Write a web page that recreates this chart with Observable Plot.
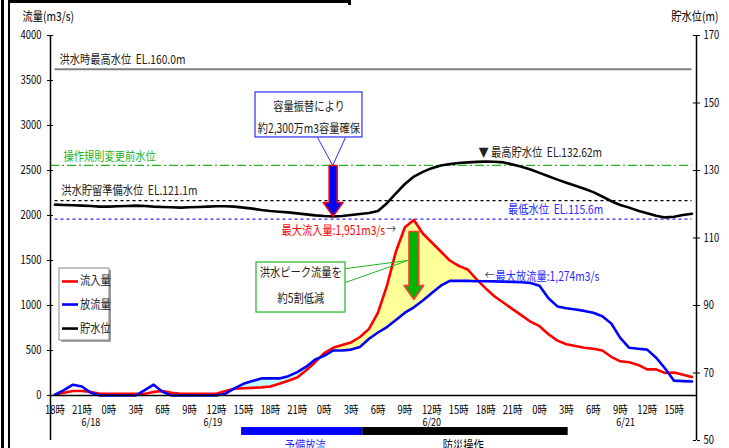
<!DOCTYPE html>
<html><head><meta charset="utf-8">
<script src="https://cdn.jsdelivr.net/npm/d3@7"></script>
<script src="https://cdn.jsdelivr.net/npm/@observablehq/plot@0.6"></script>
<style>
body{margin:0;background:#fff;overflow:hidden;}
#wrap{position:relative;width:729px;height:448px;overflow:hidden;background:#fff;}
.deco{position:absolute;}
</style></head><body><div id="wrap"></div>
<script>
// hourly data from 6/18 18:00 (index 0) to 6/21 17:00 (index 71)
const inflow = [10,30,50,50,40,20,20,20,20,20,20,40,50,30,20,20,20,20,20,50,75,80,85,90,100,130,165,200,280,370,470,530,560,590,650,740,920,1220,1600,1870,1951,1800,1700,1600,1500,1440,1400,1290,1190,1100,1030,960,890,820,770,680,610,570,550,530,520,500,430,380,370,340,290,290,250,255,230,205];
const outflow = [10,60,120,100,30,0,0,0,0,0,60,120,40,0,0,0,0,0,0,20,80,130,160,190,190,190,215,260,320,400,440,500,500,510,540,630,700,760,840,920,980,1055,1140,1220,1274,1274,1274,1270,1270,1268,1265,1262,1258,1250,1220,1080,990,970,955,940,920,880,800,640,530,520,510,420,300,165,160,155];
const level = [119.9,119.8,119.7,119.6,119.5,119.3,119.3,119.4,119.5,119.6,119.5,119.3,119.2,119.1,119.0,119.1,119.2,119.3,119.4,119.4,119.3,119.0,118.7,118.3,118.0,117.8,117.6,117.3,117.0,116.7,116.5,116.4,116.5,116.8,117.1,117.4,118.0,120.3,123.2,126.0,128.2,129.6,130.7,131.5,131.9,132.2,132.4,132.55,132.62,132.6,132.4,131.8,131.1,130.3,129.3,128.3,127.3,126.4,125.5,124.6,123.6,122.3,120.9,119.8,119.0,118.1,117.3,116.6,116.1,116.3,116.8,117.2];

const xTickHours = [0,3,6,9,12,15,18,21,24,27,30,33,36,39,42,45,48,51,54,57,60,63,66,69];
const xTickLabels = ["18時","21時","0時","3時","6時","9時","12時","15時","18時","21時","0時","3時","6時","9時","12時","15時","18時","21時","0時","3時","6時","9時","12時","15時"];
const dateLabels = ["6/18","6/19","6/20","6/21"];
const dateHours = [4, 17.6, 42, 63.6];
const leftTicks = [0,500,1000,1500,2000,2500,3000,3500,4000];
const rightTicks = [50,70,90,110,130,150,170];

const refNames = ["洪水時最高水位","操作規則変更前水位","洪水貯留準備水位","最低水位"];
const refLevels = [160.0, 131.5, 121.1, 115.6];

const legendNames = ["流入量","放流量","貯水位"];
const bandNames = ["予備放流","防災操作"];
const bandStart = [20.8, 34.3];
const bandEnd = [34.3, 57.2];

const FONT = "'Noto Sans CJK JP', 'Noto Sans', sans-serif";
const RED = "#ff0000", BLUE = "#0000ff", TBLUE = "#2b2bff", GREEN = "#22b422", DARK = "#222";

const toFlow = m => (m - 50) * 37.5 - 500;      // right axis (m) -> left axis units
const fromFlow = v => (v + 500) / 37.5 + 50;

const rows = inflow.map((q, i) => ({i, qin: q, qout: outflow[i], wl: toFlow(level[i])}));
const maxQ = d => Math.max(d.qin, d.qout);

const blueArrow = [[30.55,toFlow(131.5)],[31.45,toFlow(131.5)],[31.45,2144],[32.1,2144],[31,toFlow(116.4)],[29.9,2144],[30.55,2144]].map(([x,y])=>({x,y}));
const greenArrow = [[39.45,1822],[40.55,1822],[40.55,1222],[41.1,1222],[40,1067],[38.9,1222],[39.45,1222]].map(([x,y])=>({x,y}));
const legendColors = [RED, BLUE, "black"];
const legendY = [1267, 1011, 744];

const chart = Plot.plot({
  width: 729, height: 448,
  marginLeft: 50, marginRight: 33, marginTop: 35, marginBottom: 8,
  x: {domain: [-0.5, 71.5], axis: null},
  y: {domain: [-500, 4000], label: null},
  style: {fontFamily: FONT, fontSize: "12px", background: "white", color: "black", overflow: "visible"},
  marks: [
    // fills between inflow and outflow
    Plot.areaY(rows.filter(d => d.i >= 19 && d.i <= 31), {x: "i", y1: "qin", y2: maxQ, fill: "#c4fbff"}),
    Plot.areaY(rows.filter(d => d.i >= 29 && d.i <= 49), {x: "i", y1: "qout", y2: maxQ, fill: "#ffff99"}),
    // reference levels
    Plot.ruleY([refLevels[0]], {y: toFlow, x1: 0, x2: 71, stroke: "#808080", strokeWidth: 2}),
    Plot.ruleY([refLevels[1]], {y: toFlow, x1: -0.5, x2: 71, stroke: GREEN, strokeWidth: 1.2, strokeDasharray: "9,3,2,3"}),
    Plot.ruleY([refLevels[2]], {y: toFlow, x1: 0, x2: 71, stroke: "black", strokeWidth: 1.3, strokeDasharray: "3,3"}),
    Plot.ruleY([refLevels[3]], {y: toFlow, x1: 0, x2: 71, stroke: TBLUE, strokeWidth: 1.3, strokeDasharray: "3,3"}),
    // series
    Plot.line(rows, {x: "i", y: "wl", stroke: "black", strokeWidth: 2.6}),
    Plot.line(rows, {x: "i", y: "qin", stroke: RED, strokeWidth: 2.6}),
    Plot.line(rows, {x: "i", y: "qout", stroke: BLUE, strokeWidth: 2.6}),
    // axes frame
    Plot.ruleX([-0.5], {y1: -500, y2: 4000, stroke: "black", strokeWidth: 1.5}),
    Plot.ruleX([71.5], {y1: -500, y2: 4000, stroke: "black", strokeWidth: 1.5}),
    Plot.ruleY([0], {x1: -0.5, x2: 71.5, stroke: "black", strokeWidth: 1.5}),
    Plot.axisY(leftTicks, {anchor: "left", tickSize: 3, tickPadding: 6, fontSize: 11.5, label: null, tickFormat: d => String(d)}),
    Plot.ruleY(leftTicks, {x1: -0.5, x2: -0.15, stroke: "black"}),
    Plot.axisY(rightTicks.map(toFlow), {anchor: "right", tickSize: 3, tickPadding: 4, fontSize: 11.5, label: null, tickFormat: v => String(Math.round(fromFlow(v)))}),
    Plot.ruleY(rightTicks.map(toFlow), {x1: 71.15, x2: 71.5, stroke: "black"}),
    Plot.text(xTickLabels, {x: (d, k) => xTickHours[k], y: 0, dy: 14.5, text: d => d, fontSize: 11.5}),
    Plot.text(dateLabels, {x: (d, k) => dateHours[k], y: 0, dy: 26.5, text: d => d, fontSize: 11}),
    Plot.text(["流量(m3/s)"], {frameAnchor: "top-left", dx: -28, dy: -19, lineAnchor: "middle", textAnchor: "start", fontSize: 12.5}),
    Plot.text(["貯水位(m)"], {frameAnchor: "top-right", dx: 22, dy: -19, lineAnchor: "middle", textAnchor: "end", fontSize: 12.5}),
    // reference labels
    Plot.text([refNames[0] + "\u00a0\u00a0EL.160.0m"], {x: 0.5, y: toFlow(162.8), textAnchor: "start", fill: DARK, fontSize: 12.5}),
    Plot.text([refNames[1]], {x: 0.95, y: toFlow(134.1), textAnchor: "start", fill: GREEN, fontSize: 12.5}),
    Plot.text([refNames[2] + "\u00a0\u00a0EL.121.1m"], {x: 0.7, y: toFlow(123.9), textAnchor: "start", fill: DARK, fontSize: 12.5}),
    Plot.text([refNames[3] + "\u00a0\u00a0EL.115.6m"], {x: 50.5, y: toFlow(118.2), textAnchor: "start", fill: TBLUE, fontSize: 12.5}),
    Plot.text(["▼\u00a0最高貯水位\u00a0\u00a0EL.132.62m"], {x: 47.2, y: toFlow(135.1), textAnchor: "start", fill: DARK, fontSize: 12.5}),
    // peak labels
    Plot.text(["最大流入量:1,951m3/s"], {x: 36.8, y: 1833, textAnchor: "end", fill: RED, fontSize: 12.5}),
    Plot.text(["→"], {x: 36.8, y: 1833, dx: 1, textAnchor: "start", fill: "#444", fontSize: 12}),
    Plot.text(["←"], {x: 47.9, y: 1322, textAnchor: "start", fill: "#444", fontSize: 12}),
    Plot.text(["最大放流量:1,274m3/s"], {x: 49.1, y: 1322, textAnchor: "start", fill: TBLUE, fontSize: 12.5}),
    // blue callout + arrow
    Plot.link([0, 1], {x1: d => [29.26, 32.38][d], y1: 2867, x2: 30.95, y2: toFlow(131.5), stroke: TBLUE, strokeWidth: 1}),
    Plot.rect([0], {x1: 22.35, x2: 34.27, y1: 2867, y2: 3367, fill: "white", stroke: TBLUE, strokeWidth: 1.2}),
    Plot.text(["容量振替により"], {x: 28.3, y: 3205, fill: DARK, fontSize: 12.5}),
    Plot.text(["約2,300万m3容量確保"], {x: 28.3, y: 2962, fill: DARK, fontSize: 12.5}),
    Plot.line(blueArrow, {x: "x", y: "y", curve: "linear-closed", fill: BLUE, stroke: RED, strokeWidth: 1.5}),
    // green callout + arrow
    Plot.link([0, 1], {x1: 32.38, y1: d => [1410, 1256][d], x2: 39.3, y2: 1500, stroke: GREEN, strokeWidth: 1}),
    Plot.rect([0], {x1: 22.46, x2: 32.38, y1: 922, y2: 1478, fill: "white", stroke: GREEN, strokeWidth: 1.2}),
    Plot.text(["洪水ピーク流量を"], {x: 27.4, y: 1360, fill: DARK, fontSize: 12.5}),
    Plot.text(["約5割低減"], {x: 27.4, y: 1075, fill: DARK, fontSize: 12.5}),
    Plot.line(greenArrow, {x: "x", y: "y", curve: "linear-closed", fill: "#00b400", stroke: "#ff3b3b", strokeWidth: 1.5}),
    // legend
    Plot.rect([0], {x1: 0.75, x2: 6.3, y1: 590, y2: 1390, fill: "#9a9a9a"}),
    Plot.rect([0], {x1: 0.5, x2: 6.07, y1: 611, y2: 1411, fill: "white", stroke: "#8a8a8a", strokeWidth: 1}),
    Plot.ruleY(legendNames, {y: (d, k) => legendY[k], x1: 0.84, x2: 2.62, stroke: (d, k) => legendColors[k], strokeWidth: 2.6}),
    Plot.text(legendNames, {x: 2.8, y: (d, k) => legendY[k], text: d => d, textAnchor: "start", fill: DARK, fontSize: 12.5}),
    // operation bands
    Plot.rect(bandNames, {x1: (d, k) => bandStart[k], x2: (d, k) => bandEnd[k], y1: -444, y2: -356, fill: (d, k) => [BLUE, "black"][k]}),
    Plot.text(bandNames, {x: (d, k) => [27.9, 45.5][k], y: -512, text: d => d, lineAnchor: "top", fill: (d, k) => [TBLUE, "black"][k], fontSize: 12.5})
  ]
});
const wrap = document.getElementById("wrap");
wrap.appendChild(chart);
// decorative frame pieces at the left/top edge
[[1,0,3,448],[8,0,2,448],[10,0,340,3],[348,-2,3,7]].forEach(([l,t,w,h]) => {
  const d = document.createElement("div");
  d.className = "deco";
  Object.assign(d.style, {left: l + "px", top: t + "px", width: w + "px", height: h + "px", background: "#000"});
  wrap.appendChild(d);
});
// condense text horizontally like the original
chart.querySelectorAll("text").forEach(t => {
  const parts = t.querySelectorAll("tspan");
  (parts.length ? [...parts] : [t]).forEach(e => {
    const L = e.getComputedTextLength();
    if (L > 0) { e.setAttribute("textLength", (L * 0.82).toFixed(2)); e.setAttribute("lengthAdjust", "spacingAndGlyphs"); }
  });
});
</script></body></html>
